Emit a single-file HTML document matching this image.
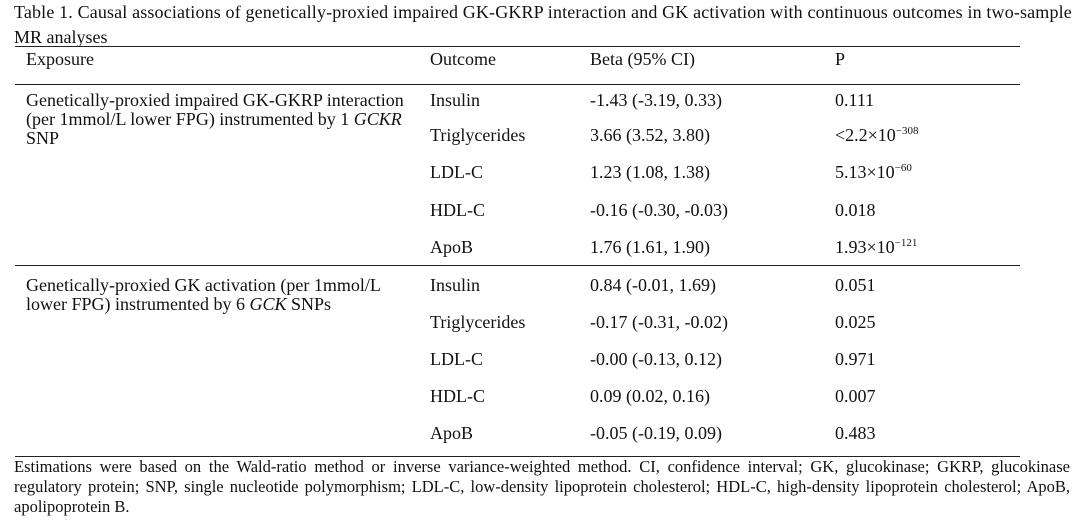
<!DOCTYPE html>
<html><head><meta charset="utf-8"><style>
body{margin:0;width:1080px;height:527px;background:#fff;font-family:"Liberation Serif",serif;font-size:18px;color:#111;position:relative;overflow:hidden}
.t{position:absolute;white-space:nowrap;line-height:18px}
.l{position:absolute;left:15px;width:1005px;height:1px;background:#222}
sup{font-size:11px;vertical-align:7px;line-height:0}
.fl{position:absolute;left:14px;width:1056px;line-height:20px;font-size:16.5px;white-space:nowrap;text-align:justify;text-align-last:justify}
</style></head><body>
<div class="t" style="left:14px;top:3px;letter-spacing:0.15px">Table 1. Causal associations of genetically-proxied impaired GK-GKRP interaction and GK activation with continuous outcomes in two-sample</div>
<div class="t" style="left:14px;top:28px">MR analyses</div>
<div class="l" style="top:46px"></div>
<div class="t" style="left:26px;top:50px">Exposure</div>
<div class="t" style="left:430px;top:50px">Outcome</div>
<div class="t" style="left:590px;top:50px">Beta (95% CI)</div>
<div class="t" style="left:835px;top:50px">P</div>
<div class="l" style="top:84px"></div>
<div class="t" style="left:26px;top:91px;line-height:19px">Genetically-proxied impaired GK-GKRP interaction<br>(per 1mmol/L lower FPG) instrumented by 1 <i>GCKR</i><br>SNP</div>
<div class="t" style="left:430px;top:91px">Insulin</div><div class="t" style="left:590px;top:91px">-1.43 (-3.19, 0.33)</div><div class="t" style="left:835px;top:91px">0.111</div>
<div class="t" style="left:430px;top:126px">Triglycerides</div><div class="t" style="left:590px;top:126px">3.66 (3.52, 3.80)</div><div class="t" style="left:835px;top:126px">&lt;2.2×10<sup>−308</sup></div>
<div class="t" style="left:430px;top:163px">LDL-C</div><div class="t" style="left:590px;top:163px">1.23 (1.08, 1.38)</div><div class="t" style="left:835px;top:163px">5.13×10<sup>−60</sup></div>
<div class="t" style="left:430px;top:201px">HDL-C</div><div class="t" style="left:590px;top:201px">-0.16 (-0.30, -0.03)</div><div class="t" style="left:835px;top:201px">0.018</div>
<div class="t" style="left:430px;top:238px">ApoB</div><div class="t" style="left:590px;top:238px">1.76 (1.61, 1.90)</div><div class="t" style="left:835px;top:238px">1.93×10<sup>−121</sup></div>
<div class="l" style="top:265px"></div>
<div class="t" style="left:26px;top:276px;line-height:19px">Genetically-proxied GK activation (per 1mmol/L<br>lower FPG) instrumented by 6 <i>GCK</i> SNPs</div>
<div class="t" style="left:430px;top:276px">Insulin</div><div class="t" style="left:590px;top:276px">0.84 (-0.01, 1.69)</div><div class="t" style="left:835px;top:276px">0.051</div>
<div class="t" style="left:430px;top:313px">Triglycerides</div><div class="t" style="left:590px;top:313px">-0.17 (-0.31, -0.02)</div><div class="t" style="left:835px;top:313px">0.025</div>
<div class="t" style="left:430px;top:350px">LDL-C</div><div class="t" style="left:590px;top:350px">-0.00 (-0.13, 0.12)</div><div class="t" style="left:835px;top:350px">0.971</div>
<div class="t" style="left:430px;top:387px">HDL-C</div><div class="t" style="left:590px;top:387px">0.09 (0.02, 0.16)</div><div class="t" style="left:835px;top:387px">0.007</div>
<div class="t" style="left:430px;top:424px">ApoB</div><div class="t" style="left:590px;top:424px">-0.05 (-0.19, 0.09)</div><div class="t" style="left:835px;top:424px">0.483</div>
<div class="l" style="top:456px"></div>
<div class="fl" style="top:457px">Estimations were based on the Wald-ratio method or inverse variance-weighted method. CI, confidence interval; GK, glucokinase; GKRP, glucokinase</div>
<div class="fl" style="top:477px">regulatory protein; SNP, single nucleotide polymorphism; LDL-C, low-density lipoprotein cholesterol; HDL-C, high-density lipoprotein cholesterol; ApoB,</div>
<div class="fl" style="top:497px;text-align-last:left">apolipoprotein B.</div>
</body></html>
